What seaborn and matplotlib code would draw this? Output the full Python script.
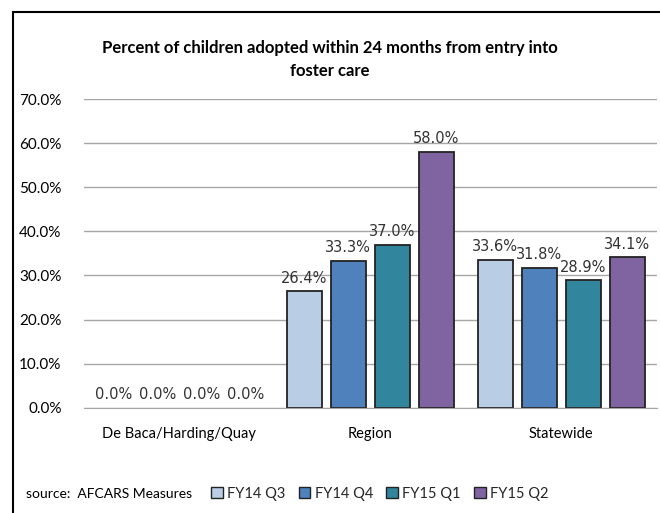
import seaborn as sns
import matplotlib.pyplot as plt
import matplotlib.patches as mpatches
import pandas as pd

categories = ['De Baca/Harding/Quay', 'Region', 'Statewide']
quarters = ['FY14 Q3', 'FY14 Q4', 'FY15 Q1', 'FY15 Q2']
fy14_q3 = [0.0, 26.4, 33.6]
fy14_q4 = [0.0, 33.3, 31.8]
fy15_q1 = [0.0, 37.0, 28.9]
fy15_q2 = [0.0, 58.0, 34.1]
colors = ['#B9CDE5', '#4F81BD', '#31859C', '#8064A2']

rows = []
for q, vals in zip(quarters, [fy14_q3, fy14_q4, fy15_q1, fy15_q2]):
    for c, v in zip(categories, vals):
        rows.append({'Area': c, 'Quarter': q, 'Percent': v})
df = pd.DataFrame(rows)

sns.set_style('white')
narrow = ['Lato', 'DejaVu Sans']

fig = plt.figure(figsize=(6.6, 5.13), dpi=100)
ax = fig.add_axes([0.127, 0.205, 0.868, 0.602])

sns.barplot(data=df, x='Area', y='Percent', hue='Quarter', order=categories,
            hue_order=quarters, palette=colors, saturation=1, width=0.92, gap=0.2,
            edgecolor='#222222', linewidth=1.3, ax=ax, legend=False)

for p in ax.patches:
    if p.get_height() == 0:
        p.set_linewidth(0)

for cont in ax.containers:
    ax.bar_label(cont, labels=[f'{v:.1f}%' for v in cont.datavalues],
                 padding=4, fontsize=10.5, color='#333333')

ax.set_ylim(0, 70)
ax.set_yticks(range(0, 71, 10))
ax.set_yticklabels([f'{t:.1f}%' for t in range(0, 71, 10)], family=narrow, fontsize=11)
ax.set_xticks(range(3))
ax.set_xticklabels(categories, family=narrow, fontsize=10.5)
ax.tick_params(axis='x', length=0, pad=14, colors='black')
ax.tick_params(axis='y', length=0, pad=16, colors='black')
ax.set_xlabel('')
ax.set_ylabel('')
ax.grid(axis='y', color='#A6A6A6', linewidth=1)
ax.set_axisbelow(True)
for s in ['left', 'right', 'top']:
    ax.spines[s].set_visible(False)
ax.spines['bottom'].set_color('#A6A6A6')

fig.text(0.5, 0.884, 'Percent of children adopted within 24 months from entry into\nfoster care',
         ha='center', va='center', family=narrow, fontsize=12, fontweight='bold',
         linespacing=1.55, color='black')

handles = [mpatches.Patch(facecolor=c, edgecolor='#222222', label=q) for c, q in zip(colors, quarters)]
fig.legend(handles=handles, loc='center left', bbox_to_anchor=(0.300, 0.038), ncol=4,
           frameon=False, prop={'family': narrow, 'size': 10.5}, handlelength=0.8,
           handleheight=0.8, handletextpad=0.3, columnspacing=0.9)
fig.text(0.04, 0.038, 'source:  AFCARS Measures', ha='left', va='center',
         family=narrow, fontsize=10, color='black')

fig.patches.append(mpatches.Rectangle((13 / 660, -0.1), 1.0, 1 - 12 / 513 + 0.1,
                                      transform=fig.transFigure, fill=False,
                                      edgecolor='black', linewidth=1.5))

fig.savefig('out.png', dpi=100)
